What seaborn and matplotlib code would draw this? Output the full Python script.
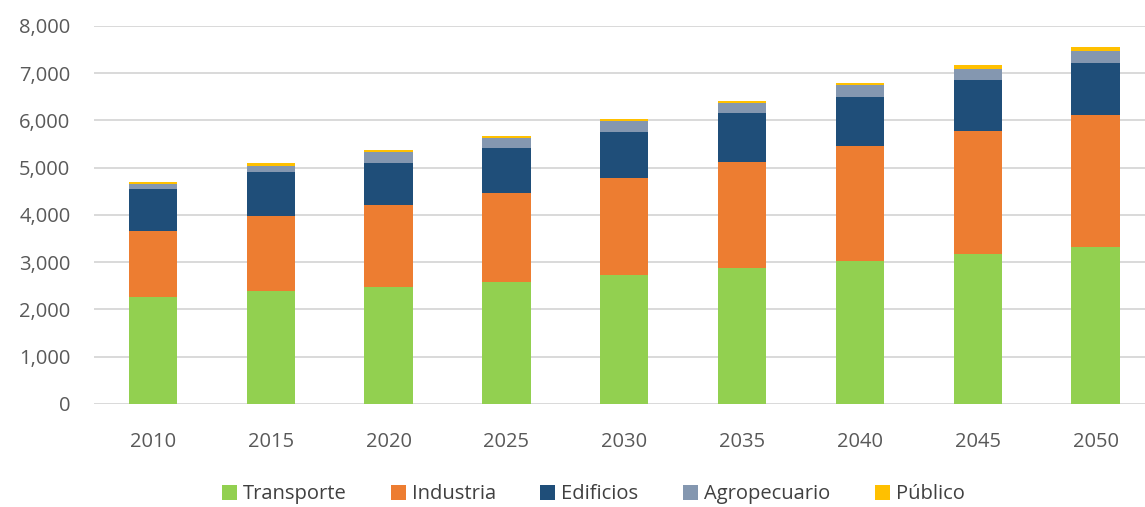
import matplotlib
matplotlib.use("Agg")
import matplotlib.pyplot as plt
from matplotlib.patches import Patch
from matplotlib.ticker import FuncFormatter
import pandas as pd
import seaborn as sns

# --- Data --------------------------------------------------------------------
years = ["2010", "2015", "2020", "2025", "2030", "2035", "2040", "2045", "2050"]
transporte = [2270, 2390, 2470, 2590, 2730, 2870, 3030, 3175, 3320]
industria = [1390, 1590, 1740, 1880, 2045, 2245, 2420, 2600, 2800]
edificios = [890, 925, 900, 950, 985, 1035, 1045, 1080, 1095]
agropecuario = [110, 140, 220, 210, 225, 210, 245, 240, 265]
publico = [40, 50, 40, 45, 45, 50, 50, 70, 70]

sectors = ["Transporte", "Industria", "Edificios", "Agropecuario", "Público"]
colors = ["#92D050", "#ED7D31", "#1F4E79", "#8497B0", "#FFC000"]

df = pd.DataFrame({
    "year": years,
    "Transporte": transporte,
    "Industria": industria,
    "Edificios": edificios,
    "Agropecuario": agropecuario,
    "Público": publico,
})
# cumulative totals so the stack can be drawn back to front
cum = df[sectors].cumsum(axis=1)
cum["year"] = df["year"]

# --- Plot --------------------------------------------------------------------
sns.set_style("white")
plt.rcParams["font.family"] = ["Open Sans", "DejaVu Sans"]

fig = plt.figure(figsize=(11.45, 5.07), dpi=100)
ax = fig.add_axes([0.0821, 0.2032, 0.918, 0.7456])

for sector, color in reversed(list(zip(sectors, colors))):
    sns.barplot(data=cum, x="year", y=sector, color=color, width=0.41,
                linewidth=0, saturation=1, ax=ax, zorder=3)

ax.set_ylim(0, 8000)
ax.set_xlim(-0.5, 8.42)
ax.set_yticks(range(0, 8001, 1000))
ax.yaxis.set_major_formatter(FuncFormatter(lambda v, p: f"{int(v):,}"))
ax.grid(axis="y", color="#D9D9D9", linewidth=1.4, zorder=0)
ax.set_axisbelow(True)
for side in ["top", "right", "left", "bottom"]:
    ax.spines[side].set_visible(False)
ax.set_xlabel("")
ax.set_ylabel("")
ax.tick_params(axis="both", length=0, labelsize=14.5, colors="#595959")
ax.tick_params(axis="y", pad=17)
ax.tick_params(axis="x", pad=20)

handles = [Patch(facecolor=c, edgecolor="none") for c in colors]
fig.legend(handles, sectors, loc="center", bbox_to_anchor=(0.518, 0.025),
           ncol=5, frameon=False, fontsize=14.5, handlelength=0.75,
           handleheight=0.75, handletextpad=0.3, columnspacing=2.2,
           labelcolor="#404040")

fig.savefig("out.png", dpi=100)
plt.close(fig)
